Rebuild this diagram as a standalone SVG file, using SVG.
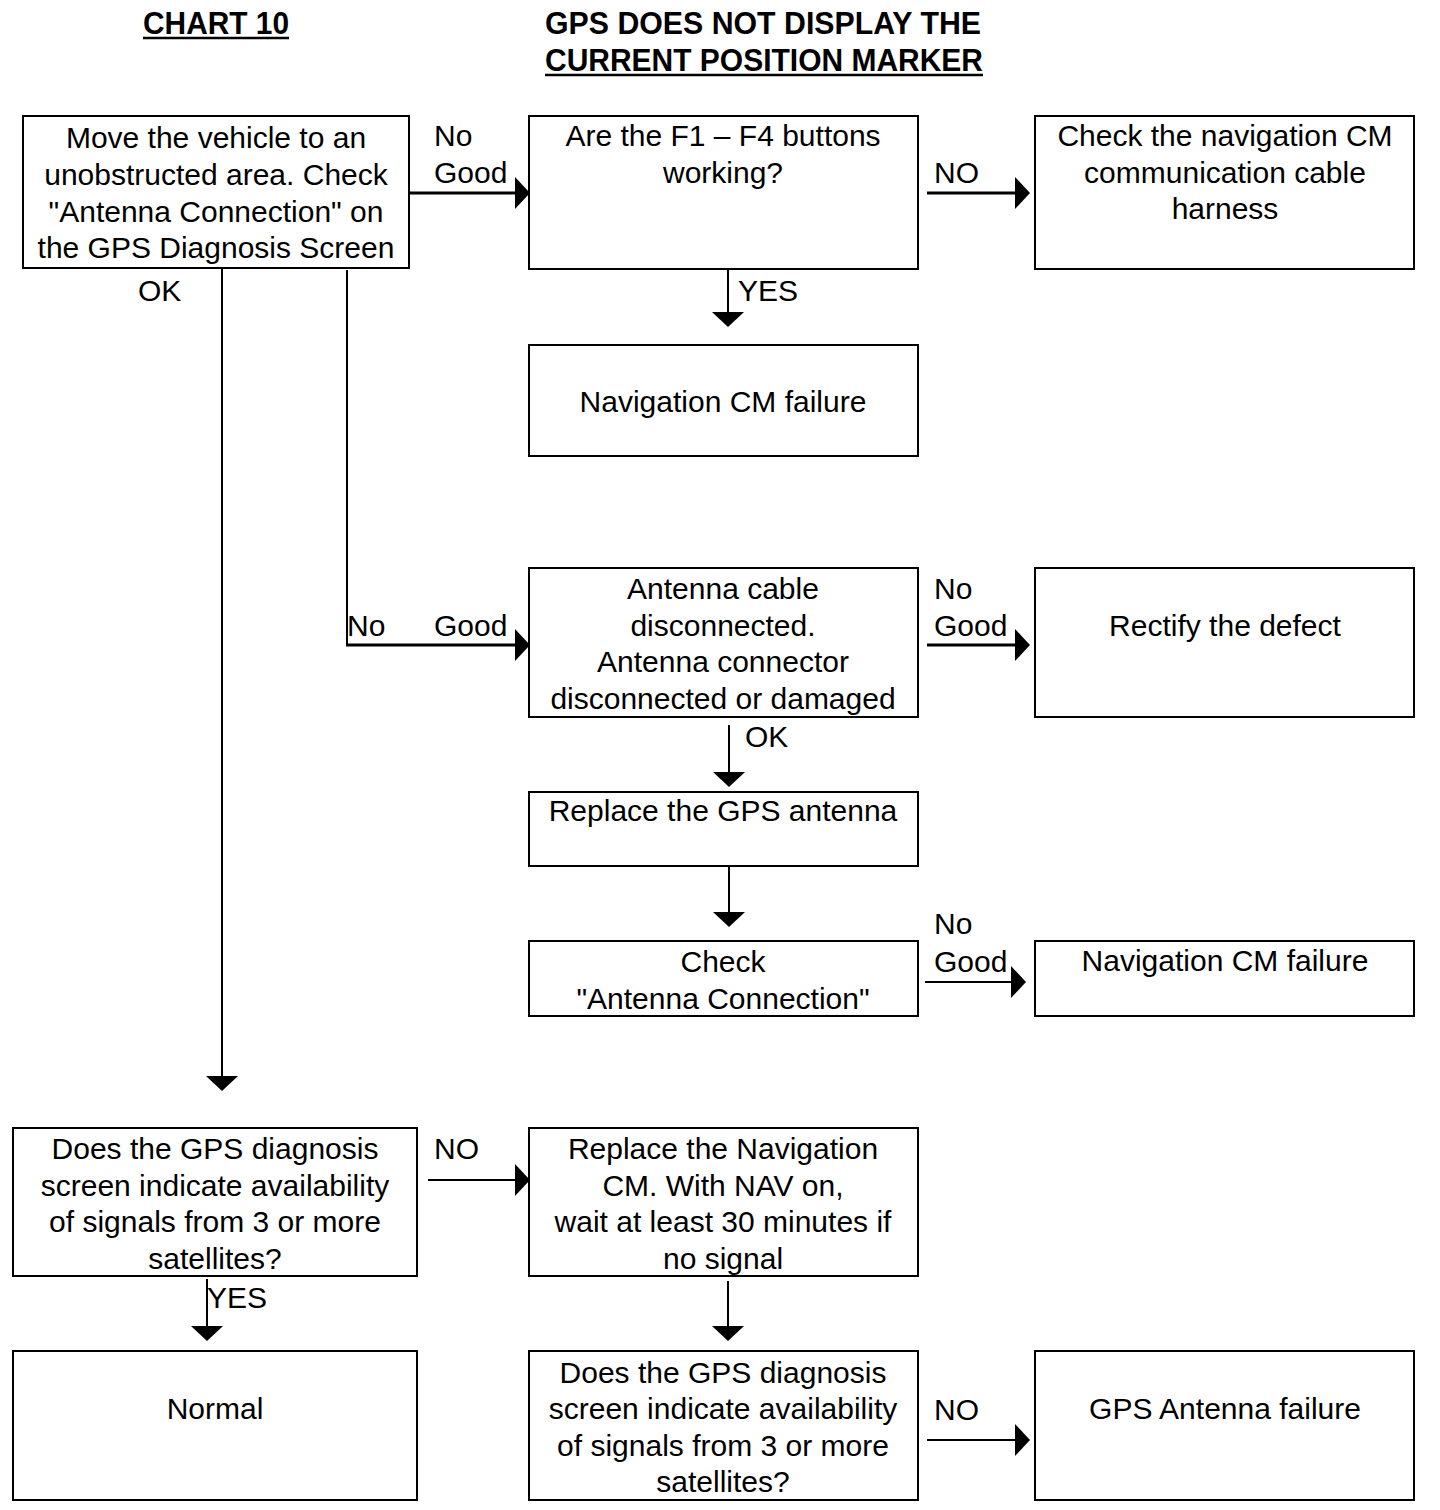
<svg xmlns="http://www.w3.org/2000/svg" width="1440" height="1510" viewBox="0 0 1440 1510">
<defs>
<style>
.box{fill:#fff;stroke:#000;stroke-width:2}
.t{font-family:"Liberation Sans",Arial,sans-serif;font-size:30px;fill:#000;text-anchor:middle}
.l{font-family:"Liberation Sans",Arial,sans-serif;font-size:30px;fill:#000}
.h{font-family:"Liberation Sans",Arial,sans-serif;font-size:32px;font-weight:bold;fill:#000}
.c{fill:none;stroke:#000;stroke-width:2}
.c3{fill:none;stroke:#000;stroke-width:3}
</style>
<marker id="ah" viewBox="0 0 15 32" markerWidth="15" markerHeight="32" refX="0" refY="16" orient="auto" markerUnits="userSpaceOnUse">
<path d="M0,0 L15,16 L0,32 Z" fill="#000"/>
</marker>
</defs>
<rect width="1440" height="1510" fill="#fff"/>
<g id="title">
<text class="h" x="143" y="34" textLength="146" lengthAdjust="spacingAndGlyphs">CHART 10</text>
<line x1="143" y1="38" x2="289" y2="38" stroke="#000" stroke-width="2.5"/>
<text class="h" x="545" y="34" textLength="436" lengthAdjust="spacingAndGlyphs">GPS DOES NOT DISPLAY THE</text>
<text class="h" x="545" y="71" textLength="438" lengthAdjust="spacingAndGlyphs">CURRENT POSITION MARKER</text>
<line x1="545" y1="75" x2="983" y2="75" stroke="#000" stroke-width="2.5"/>
</g>
<g id="connectors">
<path class="c3" d="M409,193 H515" marker-end="url(#ah)"/>
<path class="c3" d="M927,193 H1015" marker-end="url(#ah)"/>
<path class="c" d="M728,265 V312" marker-end="url(#ah)"/>
<path class="c" d="M222,268 V1076" marker-end="url(#ah)"/>
<path class="c" d="M347,270 V645"/>
<path class="c3" d="M346,645 H515" marker-end="url(#ah)"/>
<path class="c3" d="M927,645 H1015" marker-end="url(#ah)"/>
<path class="c" d="M729,725 V772" marker-end="url(#ah)"/>
<path class="c" d="M729,866 V912" marker-end="url(#ah)"/>
<path class="c" d="M925,982 H1011" marker-end="url(#ah)"/>
<path class="c" d="M428,1180 H515" marker-end="url(#ah)"/>
<path class="c" d="M207,1279 V1326" marker-end="url(#ah)"/>
<path class="c" d="M728,1281 V1326" marker-end="url(#ah)"/>
<path class="c" d="M927,1440 H1015" marker-end="url(#ah)"/>
<text class="l" x="434" y="146">No</text>
<text class="l" x="434" y="183">Good</text>
<text class="l" x="934" y="183">NO</text>
<text class="l" x="738" y="301">YES</text>
<text class="l" x="138" y="301">OK</text>
<text class="l" x="347" y="636">No</text>
<text class="l" x="434" y="636">Good</text>
<text class="l" x="934" y="599">No</text>
<text class="l" x="934" y="636">Good</text>
<text class="l" x="745" y="747">OK</text>
<text class="l" x="934" y="934">No</text>
<text class="l" x="934" y="972">Good</text>
<text class="l" x="434" y="1159">NO</text>
<text class="l" x="207" y="1308">YES</text>
<text class="l" x="934" y="1420">NO</text>
</g>
<g id="n1">
<rect class="box" x="23" y="116" width="386" height="152"/>
<text class="t" x="216" y="148">Move the vehicle to an</text>
<text class="t" x="216" y="185">unobstructed area. Check</text>
<text class="t" x="216" y="222">"Antenna Connection" on</text>
<text class="t" x="216" y="258">the GPS Diagnosis Screen</text>
</g>
<g id="n2">
<rect class="box" x="529" y="116" width="389" height="153"/>
<text class="t" x="723" y="146">Are the F1 – F4 buttons</text>
<text class="t" x="723" y="183">working?</text>
</g>
<g id="n3">
<rect class="box" x="1035" y="116" width="379" height="153"/>
<text class="t" x="1225" y="146">Check the navigation CM</text>
<text class="t" x="1225" y="183">communication cable</text>
<text class="t" x="1225" y="219">harness</text>
</g>
<g id="n4">
<rect class="box" x="529" y="345" width="389" height="111"/>
<text class="t" x="723" y="412">Navigation CM failure</text>
</g>
<g id="n5">
<rect class="box" x="529" y="568" width="389" height="149"/>
<text class="t" x="723" y="599">Antenna cable</text>
<text class="t" x="723" y="636">disconnected.</text>
<text class="t" x="723" y="672">Antenna connector</text>
<text class="t" x="723" y="709">disconnected or damaged</text>
</g>
<g id="n6">
<rect class="box" x="1035" y="568" width="379" height="149"/>
<text class="t" x="1225" y="636">Rectify the defect</text>
</g>
<g id="n7">
<rect class="box" x="529" y="792" width="389" height="74"/>
<text class="t" x="723" y="821">Replace the GPS antenna</text>
</g>
<g id="n8">
<rect class="box" x="529" y="941" width="389" height="75"/>
<text class="t" x="723" y="972">Check</text>
<text class="t" x="723" y="1009">"Antenna Connection"</text>
</g>
<g id="n9">
<rect class="box" x="1035" y="941" width="379" height="75"/>
<text class="t" x="1225" y="971">Navigation CM failure</text>
</g>
<g id="n10">
<rect class="box" x="13" y="1128" width="404" height="148"/>
<text class="t" x="215" y="1159">Does the GPS diagnosis</text>
<text class="t" x="215" y="1196">screen indicate availability</text>
<text class="t" x="215" y="1232">of signals from 3 or more</text>
<text class="t" x="215" y="1269">satellites?</text>
</g>
<g id="n11">
<rect class="box" x="529" y="1128" width="389" height="148"/>
<text class="t" x="723" y="1159">Replace the Navigation</text>
<text class="t" x="723" y="1196">CM. With NAV on,</text>
<text class="t" x="723" y="1232">wait at least 30 minutes if</text>
<text class="t" x="723" y="1269">no signal</text>
</g>
<g id="n12">
<rect class="box" x="13" y="1351" width="404" height="149"/>
<text class="t" x="215" y="1419">Normal</text>
</g>
<g id="n13">
<rect class="box" x="529" y="1351" width="389" height="149"/>
<text class="t" x="723" y="1383">Does the GPS diagnosis</text>
<text class="t" x="723" y="1419">screen indicate availability</text>
<text class="t" x="723" y="1456">of signals from 3 or more</text>
<text class="t" x="723" y="1492">satellites?</text>
</g>
<g id="n14">
<rect class="box" x="1035" y="1351" width="379" height="149"/>
<text class="t" x="1225" y="1419">GPS Antenna failure</text>
</g>
</svg>
